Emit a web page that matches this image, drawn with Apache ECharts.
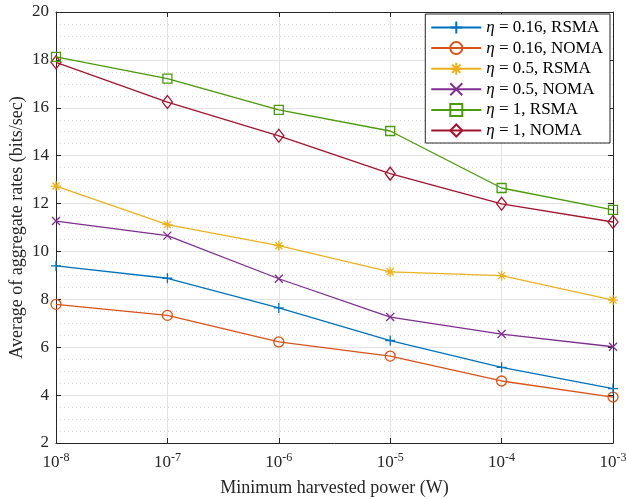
<!DOCTYPE html>
<html>
<head>
<meta charset="utf-8">
<script src="https://cdn.jsdelivr.net/npm/echarts@6/dist/echarts.min.js"></script>
<style>
  html, body { margin: 0; padding: 0; background: #fff; }
  #chart { width: 626px; height: 499px; }
</style>
</head>
<body>
<div id="chart"></div>
<script>
// x values (minimum harvested power, W)
const powers = [1e-8, 1e-7, 1e-6, 1e-5, 1e-4, 1e-3]
// average of aggregate rates per curve
const rsma016 = [9.40, 8.88, 7.64, 6.28, 5.16, 4.27]
const noma016 = [7.79, 7.33, 6.22, 5.63, 4.59, 3.92]
const rsma05 = [12.73, 11.12, 10.24, 9.15, 8.99, 7.97]
const noma05 = [11.27, 10.66, 8.86, 7.26, 6.55, 6.02]
const rsma1 = [18.13, 17.22, 15.91, 15.03, 12.65, 11.74]
const noma1 = [17.90, 16.24, 14.83, 13.25, 11.99, 11.23]
const names = ['η = 0.16, RSMA', 'η = 0.16, NOMA', 'η = 0.5, RSMA', 'η = 0.5, NOMA', 'η = 1, RSMA', 'η = 1, NOMA']

const font = 'Liberation Serif'
const axisColor = '#262626'

// marker shapes (matlab style)
const plus = 'path://M0,5L10,5M5,0L5,10'
const star = 'path://M0,5L10,5M5,0L5,10M1.5,1.5L8.5,8.5M8.5,1.5L1.5,8.5'
const cross = 'path://M0,0L10,10M10,0L0,10'

const looks = [
  { color: '#0072BD', symbol: plus, size: 10 },
  { color: '#D95319', symbol: 'circle', size: 10 },
  { color: '#EDB120', symbol: star, size: 10 },
  { color: '#7E2F8E', symbol: cross, size: 8 },
  { color: '#4A9A0A', symbol: 'rect', size: 9 },
  { color: '#A2142F', symbol: 'diamond', size: [10, 13] }
]
const values = [rsma016, noma016, rsma05, noma05, rsma1, noma1]

// minor grid lines of the log axis (2..9 in every decade)
let minorX = []
for (let e = -8; e < -3; e++) {
  for (let k = 2; k <= 9; k++) {
    minorX.push({ xAxis: k * Math.pow(10, e) })
  }
}

let series = values.map((v, i) => {
  let s = {
    name: names[i],
    type: 'line',
    data: v.map((y, j) => [powers[j], y]),
    symbol: looks[i].symbol,
    symbolSize: looks[i].size,
    showAllSymbol: true,
    lineStyle: { color: looks[i].color, width: 1.3 },
    itemStyle: { color: 'rgba(0,0,0,0)', borderColor: looks[i].color, borderWidth: 1.3 },
    emphasis: { disabled: true },
    z: 10 - i
  }
  if (i === 0) {
    s.markLine = {
      silent: true,
      symbol: 'none',
      label: { show: false },
      lineStyle: { color: '#d8d8d8', type: [1, 3], width: 1 },
      data: minorX,
      z: 1
    }
  }
  return s
})

const logLabel = function (value) {
  let e = Math.round(Math.log10(value))
  return '10{sup|' + e + '}'
}

let options = {
  animation: false,
  backgroundColor: '#fff',
  grid: { left: 56, right: 13, top: 12, bottom: 56, outerBoundsMode: 'none', containLabel: false },
  legend: {
    orient: 'vertical',
    right: 16,
    top: 14,
    itemWidth: 50,
    itemHeight: 15,
    itemGap: 3.6,
    padding: [5, 7, 4, 5],
    backgroundColor: '#fff',
    borderColor: axisColor,
    borderWidth: 1,
    borderRadius: 0,
    data: names,
    formatter: function (name) {
      return '{i|η}' + name.slice(1)
    },
    textStyle: {
      fontFamily: font,
      fontSize: 17,
      color: '#000',
      rich: {
        i: { fontFamily: font, fontSize: 17, fontStyle: 'italic', color: '#000' }
      }
    }
  },
  xAxis: [{
    type: 'log',
    logBase: 10,
    min: 1e-8,
    max: 1e-3,
    name: 'Minimum harvested power (W)',
    nameLocation: 'middle',
    nameGap: 36,
    nameMoveOverlap: false,
    nameTextStyle: { fontFamily: font, fontSize: 18, color: '#262626' },
    axisLine: { lineStyle: { color: axisColor, width: 1 } },
    axisTick: { inside: true, length: 5, lineStyle: { color: axisColor } },
    axisLabel: {
      formatter: logLabel,
      margin: 9,
      fontFamily: font,
      fontSize: 17,
      color: '#262626',
      rich: {
        sup: { fontFamily: font, fontSize: 12, color: '#262626', verticalAlign: 'top', padding: [0, 0, 9, 0] }
      }
    },
    splitLine: { show: true, lineStyle: { color: '#e3e3e3', width: 1 } },
    minorTick: { show: false },
    minorSplitLine: { show: false }
  }, {
    type: 'log',
    logBase: 10,
    min: 1e-8,
    max: 1e-3,
    position: 'top',
    axisLine: { lineStyle: { color: axisColor, width: 1 } },
    axisTick: { inside: true, length: 5, lineStyle: { color: axisColor } },
    axisLabel: { show: false },
    splitLine: { show: false }
  }],
  yAxis: [{
    type: 'value',
    min: 2,
    max: 20,
    interval: 2,
    name: 'Average of aggregate rates (bits/sec)',
    nameLocation: 'middle',
    nameGap: 30,
    nameMoveOverlap: false,
    nameTextStyle: { fontFamily: font, fontSize: 18, color: '#262626' },
    axisLine: { show: true, lineStyle: { color: axisColor, width: 1 } },
    axisTick: { show: true, inside: true, length: 5, lineStyle: { color: axisColor } },
    axisLabel: { margin: 7, fontFamily: font, fontSize: 17, color: '#262626' },
    splitLine: { show: true, lineStyle: { color: '#e3e3e3', width: 1 } },
    minorTick: { show: false, splitNumber: 4 },
    minorSplitLine: { show: true, lineStyle: { color: '#d8d8d8', type: [1, 3], width: 1 } }
  }, {
    type: 'value',
    min: 2,
    max: 20,
    interval: 2,
    position: 'right',
    axisLine: { show: true, lineStyle: { color: axisColor, width: 1 } },
    axisTick: { show: true, inside: true, length: 5, lineStyle: { color: axisColor } },
    axisLabel: { show: false },
    splitLine: { show: false }
  }],
  series: series
}

let chart = echarts.init(document.getElementById('chart'))
chart.setOption(options)
</script>
</body>
</html>
